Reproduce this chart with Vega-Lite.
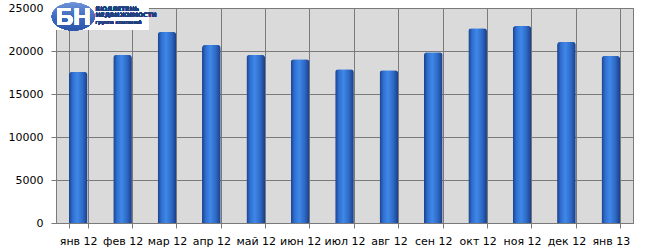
{
  "$schema": "https://vega.github.io/schema/vega-lite/v6.json",
  "width": 577,
  "height": 215,
  "autosize": {"type": "none"},
  "padding": {"left": 56, "top": 8, "right": 14, "bottom": 28},
  "background": "#ffffff",
  "config": {
    "view": {"fill": "#dadada", "stroke": "#7a7a7a", "strokeWidth": 1},
    "font": "DejaVu Sans",
    "axis": {
      "labelFont": "DejaVu Sans",
      "labelFontSize": 11,
      "labelColor": "#000000",
      "domainColor": "#7a7a7a",
      "tickColor": "#7a7a7a",
      "gridColor": "#7a7a7a",
      "gridOpacity": 1,
      "gridWidth": 1,
      "tickSize": 5,
      "title": null
    }
  },
  "data": {
    "values": [
      {"month": "янв 12", "value": 17560},
      {"month": "фев 12", "value": 19540},
      {"month": "мар 12", "value": 22220},
      {"month": "апр 12", "value": 20700},
      {"month": "май 12", "value": 19540},
      {"month": "июн 12", "value": 19040},
      {"month": "июл 12", "value": 17870},
      {"month": "авг 12", "value": 17750},
      {"month": "сен 12", "value": 19850},
      {"month": "окт 12", "value": 22650},
      {"month": "ноя 12", "value": 22900},
      {"month": "дек 12", "value": 21050},
      {"month": "янв 13", "value": 19420}
    ]
  },
  "encoding": {
    "x": {
      "field": "month",
      "type": "nominal",
      "sort": null,
      "scale": {"paddingInner": 0.58, "paddingOuter": 0.29},
      "axis": {"labelAngle": 0, "tickBand": "extent", "grid": true, "labelPadding": 7, "domain": true}
    }
  },
  "layer": [
    {
      "mark": {
        "type": "bar",
        "cornerRadiusTopLeft": 3,
        "cornerRadiusTopRight": 3,
        "color": {
          "gradient": "linear",
          "x1": 0, "y1": 0, "x2": 1, "y2": 0,
          "stops": [
            {"offset": 0, "color": "#1b3f88"},
            {"offset": 0.2, "color": "#2f6fd0"},
            {"offset": 0.45, "color": "#3f88e8"},
            {"offset": 0.75, "color": "#2d68c4"},
            {"offset": 1, "color": "#1a3d86"}
          ]
        }
      },
      "encoding": {
        "y": {
          "field": "value",
          "type": "quantitative",
          "scale": {"domain": [0, 25000], "nice": false},
          "axis": {"values": [0, 5000, 10000, 15000, 20000, 25000], "grid": true, "labelPadding": 8, "format": "d"}
        }
      }
    },
    {
      "mark": {"type": "point", "shape": "M-1,-0.306 L1,-0.306 L1,0.306 L-1,0.306 Z", "filled": true, "size": 9604, "color": "#ffffff", "opacity": 1, "strokeWidth": 0, "xOffset": -23.4},
      "encoding": {"x": {"datum": "фев 12"}, "y": {"datum": 24200}}
    },
    {
      "mark": {
        "type": "point",
        "shape": "M-1,0 A1,0.65 0 1,1 1,0 A1,0.65 0 1,1 -1,0 Z",
        "filled": true,
        "size": 1849,
        "opacity": 1,
        "strokeWidth": 0,
        "xOffset": -5,
        "color": {
          "gradient": "linear",
          "x1": 0, "y1": 0, "x2": 0, "y2": 1,
          "stops": [
            {"offset": 0, "color": "#6e92d6"},
            {"offset": 0.5, "color": "#3e6cc0"},
            {"offset": 1, "color": "#2b55a8"}
          ]
        }
      },
      "encoding": {"x": {"datum": "янв 12"}, "y": {"datum": 24000}}
    },
    {
      "mark": {"type": "text", "text": "БН", "font": "Liberation Sans", "fontSize": 24, "fontWeight": "bold", "color": "#ffffff", "align": "center", "baseline": "middle", "dx": -5, "dy": 1},
      "encoding": {"x": {"datum": "янв 12"}, "y": {"datum": 24000}}
    },
    {
      "mark": {"type": "text", "text": "БЮЛЛЕТЕНЬ", "fontSize": 6, "fontWeight": "bold", "color": "#1f3f7f", "align": "left", "baseline": "middle", "dx": -27},
      "encoding": {"x": {"datum": "фев 12"}, "y": {"datum": 24900}}
    },
    {
      "mark": {"type": "text", "text": "НЕДВИЖИМОСТИ", "fontSize": 6, "fontWeight": "bold", "color": "#1f3f7f", "align": "left", "baseline": "middle", "dx": -27},
      "encoding": {"x": {"datum": "фев 12"}, "y": {"datum": 24200}}
    },
    {
      "mark": {"type": "text", "text": "группа компаний", "fontSize": 5, "color": "#1f3f7f", "align": "left", "baseline": "middle", "dx": -27},
      "encoding": {"x": {"datum": "фев 12"}, "y": {"datum": 23380}}
    }
  ]
}
